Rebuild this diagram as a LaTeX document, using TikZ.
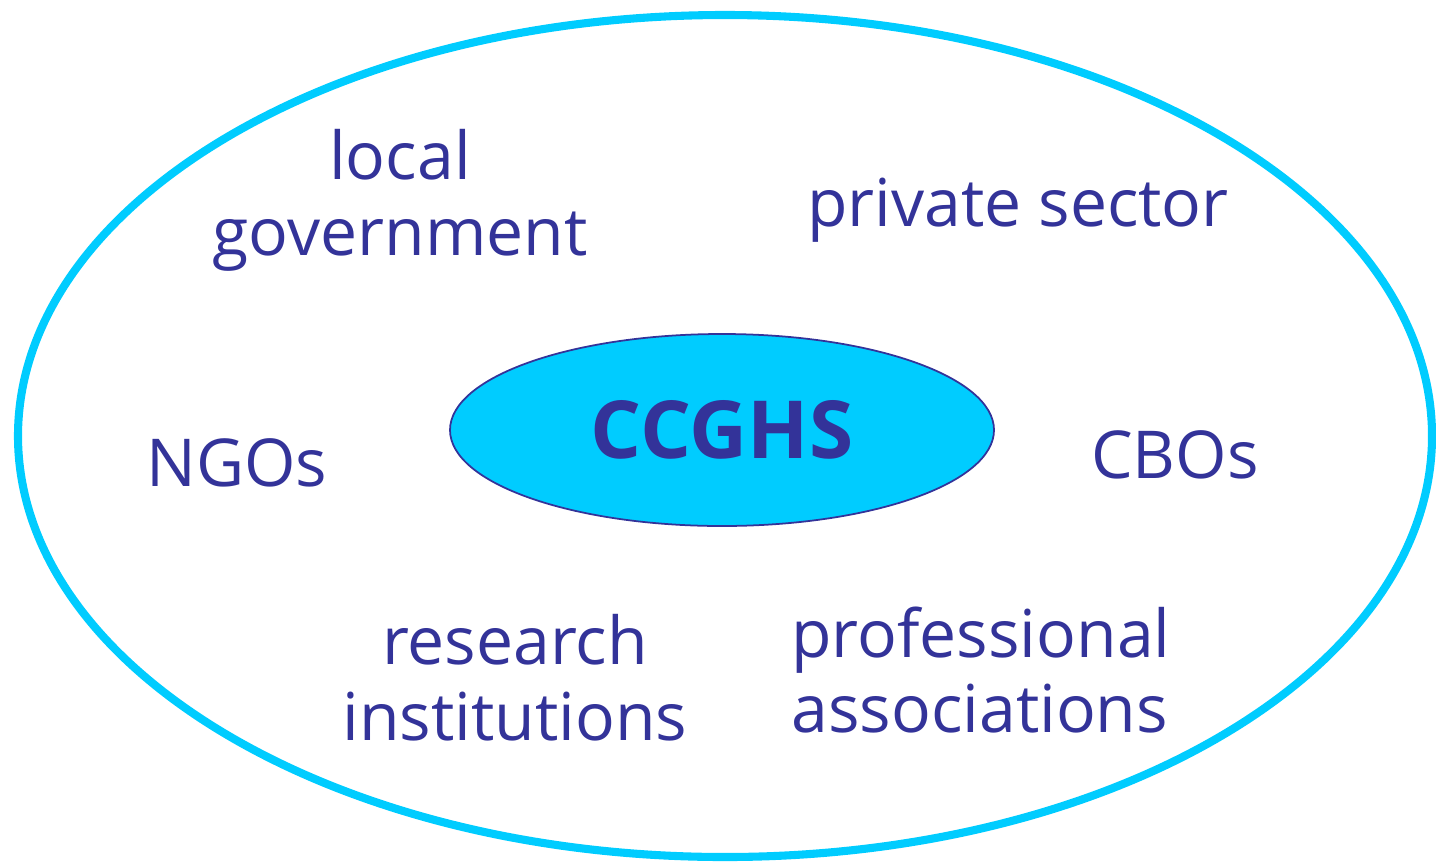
\documentclass[tikz,border=0pt]{standalone}
\usepackage{fontspec}
\setmainfont{Open Sans}
\usepackage{tikz}
\usetikzlibrary{shapes.geometric}
\definecolor{ringcyan}{RGB}{0, 204, 255}
\definecolor{labelblue}{RGB}{51, 51, 153}
\tikzset{
  partner/.style={text=labelblue, font=\fontsize{18.8}{21.6}\selectfont, align=center, inner sep=0pt},
  hub/.style={ellipse, fill=ringcyan, draw=labelblue, line width=0.5pt, text=labelblue,
    font=\fontsize{22.8}{26}\selectfont\bfseries, minimum width=5.44cm, minimum height=1.92cm}
}

\begin{document}
\begin{tikzpicture}
    % Frame
    \useasboundingbox (0,0) rectangle (14.36,-8.63);
    % Outer ring
    \draw[ringcyan, line width=2.3pt] (7.25,-4.36) ellipse [x radius=7.07, y radius=4.21];
    % Centre
    \node[hub] (ccghs) at (7.22,-4.30) {CCGHS};
    % Partners
    \node[partner] (localgov) at (4.00,-2.00) {local\\government};
    \node[partner] (private) at (10.18,-2.10) {private sector};
    \node[partner] (ngos) at (2.37,-4.63) {NGOs};
    \node[partner] (cbos) at (11.75,-4.55) {CBOs};
    \node[partner] (research) at (5.15,-6.78) {research\\institutions};
    \node[partner, align=left] (profassoc) at (9.81,-6.70) {professional\\associations};
\end{tikzpicture}
\end{document}
